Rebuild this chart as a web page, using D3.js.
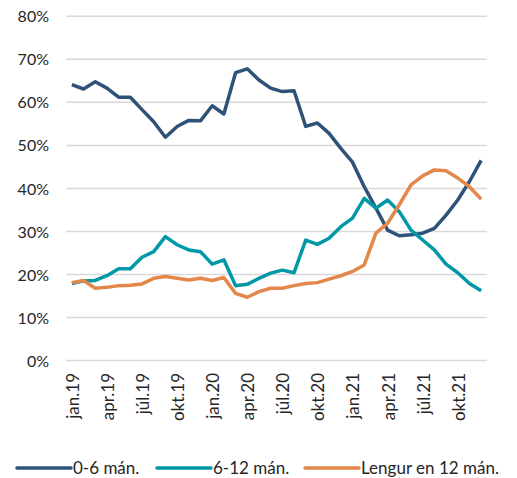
<!DOCTYPE html>
<html>
<head>
<meta charset="utf-8">
<script src="https://cdn.jsdelivr.net/npm/d3@7"></script>
<style>
  body { margin: 0; background: #fff; }
  text { font-family: Lato, "Open Sans", sans-serif; fill: #262626; }
</style>
</head>
<body>
<svg id="chart" width="517" height="478"></svg>
<script>
// mánuðir jan.19 - des.21
const months = ['jan.19','feb.19','mar.19','apr.19','maí.19','jún.19','júl.19','ágú.19','sep.19','okt.19','nóv.19','des.19',
  'jan.20','feb.20','mar.20','apr.20','maí.20','jún.20','júl.20','ágú.20','sep.20','okt.20','nóv.20','des.20',
  'jan.21','feb.21','mar.21','apr.21','maí.21','jún.21','júl.21','ágú.21','sep.21','okt.21','nóv.21','des.21'];

const tickLabels = ['jan.19','apr.19','júl.19','okt.19','jan.20','apr.20','júl.20','okt.20','jan.21','apr.21','júl.21','okt.21'];

const series0to6 = [64.1, 63.1, 64.8, 63.3, 61.2, 61.2, 58.3, 55.5, 51.9, 54.4, 55.8, 55.7,
  59.2, 57.3, 66.9, 67.8, 65.2, 63.3, 62.5, 62.7, 54.4, 55.2, 52.8, 49.3,
  46.1, 40.4, 35.4, 30.3, 29.0, 29.2, 29.6, 30.7, 33.8, 37.3, 41.6, 46.5];

const series6to12 = [17.9, 18.5, 18.6, 19.7, 21.3, 21.3, 24.0, 25.3, 28.8, 26.9, 25.7, 25.3,
  22.4, 23.4, 17.4, 17.7, 19.1, 20.3, 21.0, 20.4, 28.0, 27.0, 28.4, 31.1,
  33.1, 37.7, 35.4, 37.3, 34.6, 30.3, 28.0, 25.7, 22.4, 20.4, 17.9, 16.2];

const seriesLonger = [18.1, 18.6, 16.8, 17.0, 17.4, 17.5, 17.8, 19.1, 19.5, 19.1, 18.7, 19.1,
  18.6, 19.3, 15.6, 14.7, 16.0, 16.8, 16.8, 17.4, 17.9, 18.1, 18.9, 19.7,
  20.7, 22.2, 29.6, 31.9, 36.2, 40.8, 42.9, 44.3, 44.1, 42.4, 40.4, 37.5];

const seriesNames = ['0-6 mán.', '6-12 mán.', 'Lengur en 12 mán.'];
const colors = ['#2f5378', '#0098a8', '#e3874a'];
const yTicks = [0, 10, 20, 30, 40, 50, 60, 70, 80];

const svg = d3.select('#chart');

let x = d3.scaleBand().domain(months).range([66, 487]);
let y = d3.scaleLinear().domain([0, 80]).range([360.5, 16.3]);

// lárétt hjálparlínur
svg.append('g').selectAll('line')
    .data(yTicks)
    .enter()
    .append('line')
    .attr('x1', 66).attr('x2', 487)
    .attr('y1', d => y(d)).attr('y2', d => y(d))
    .style('stroke', '#d9d9d9')
    .style('stroke-width', 1.5);

// y-ás
let yAxis = svg.append('g')
    .attr('transform', 'translate(49,0)')
    .call(d3.axisLeft(y).tickValues(yTicks).tickFormat(d => d + '%').tickSize(0).tickPadding(0));
yAxis.select('.domain').remove();
yAxis.selectAll('text').style('font-size', '16px').attr('dy', '0.35em');

// x-ás
let xAxis = svg.append('g')
    .attr('transform', 'translate(0,368)')
    .call(d3.axisBottom(x).tickValues(tickLabels).tickSize(0).tickPadding(0));
xAxis.select('.domain').remove();
xAxis.selectAll('text')
    .style('font-size', '17px')
    .attr('text-anchor', 'end')
    .attr('transform', 'rotate(-90)')
    .attr('x', -5)
    .attr('y', 1)
    .attr('dy', '0.35em');

// línur
let allSeries = [series0to6, series6to12, seriesLonger];
let line = d3.line()
    .x((d, i) => x(months[i]) + x.bandwidth() / 2)
    .y(d => y(d));

svg.append('g').selectAll('path')
    .data(allSeries)
    .enter()
    .append('path')
    .attr('d', d => line(d))
    .style('fill', 'none')
    .style('stroke', (d, i) => colors[i])
    .style('stroke-width', 3.5)
    .style('stroke-linejoin', 'round');

// skýringar
let legendX = [17, 157, 305];
let legend = svg.append('g').selectAll('g')
    .data(seriesNames)
    .enter()
    .append('g')
    .attr('transform', (d, i) => 'translate(' + legendX[i] + ',468)');

legend.append('line')
    .attr('x1', 0).attr('x2', 54)
    .style('stroke', (d, i) => colors[i])
    .style('stroke-width', 3.5)
    .style('stroke-linecap', 'round');

legend.append('text')
    .attr('x', 56)
    .attr('dy', '0.35em')
    .style('font-size', '17px')
    .text(d => d);
</script>
</body>
</html>
